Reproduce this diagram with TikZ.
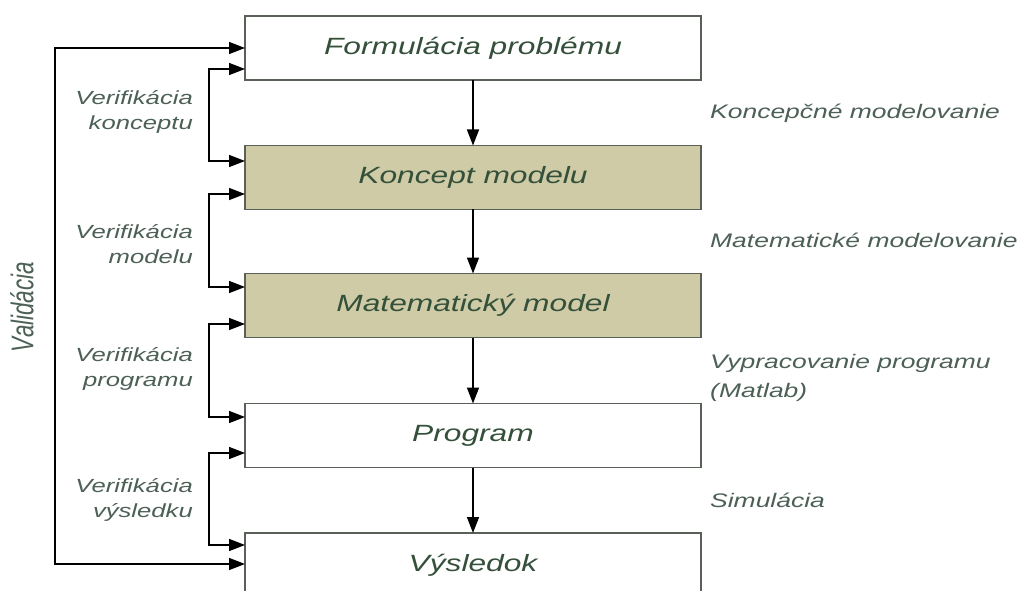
\documentclass[tikz,border=0pt]{standalone}
\usepackage{fontspec}
\setmainfont{Liberation Sans}
\usepackage{graphicx}
\usetikzlibrary{arrows.meta}
\definecolor{boxfill}{RGB}{206,203,166}
\definecolor{boxtext}{RGB}{52,80,58}
\definecolor{labtext}{RGB}{76,96,86}
\definecolor{boxline}{RGB}{88,96,88}
\newcommand{\sx}[1]{\scalebox{1.35}[1]{#1}}
\tikzset{
stage/.style={draw=boxline, line width=1.6pt, minimum width=456pt, minimum height=64pt, inner sep=0pt, outer sep=0pt, text=boxtext, font=\fontsize{23.5}{28}\selectfont\itshape},
model/.style={stage, fill=boxfill},
sidelab/.style={anchor=west, align=left, text=labtext, inner sep=0pt, font=\fontsize{19.6}{29}\selectfont\itshape},
verlab/.style={anchor=east, align=right, text=labtext, inner sep=0pt, font=\fontsize{19}{25}\selectfont\itshape},
arr/.style={line width=1.5pt, -{Triangle[length=16pt,width=12pt]}},
both/.style={line width=1.5pt, {Triangle[length=16pt,width=12pt]}-{Triangle[length=16pt,width=12pt]}},
}
\begin{document}
\begin{tikzpicture}[x=1pt,y=-1pt]
	\clip (0,0) rectangle (1021,591);
	\fill[white] (0,0) rectangle (1021,591);
	% stages
	\node[stage] (form) at (473,48) {\sx{Formulácia problému}};
	\node[model] (konc) at (473,177.5) {\sx{Koncept modelu}};
	\node[model] (mat) at (473,305.5) {\sx{Matematický model}};
	\node[stage] (prog) at (473,435.5) {\sx{Program}};
	\node[stage] (vys) at (473,565) {\sx{Výsledok}};
	\draw[arr] (form) to (konc);
	\draw[arr] (konc) to (mat);
	\draw[arr] (mat) to (prog);
	\draw[arr] (prog) to (vys);
	% verification
	\draw[both] (form.west |- 0,69) to (209,69) to (209,161) to (konc.west |- 0,161);
	\draw[both] (konc.west |- 0,194) to (209,194) to (209,287) to (mat.west |- 0,287);
	\draw[both] (mat.west |- 0,324) to (209,324) to (209,417) to (prog.west |- 0,417);
	\draw[both] (prog.west |- 0,453) to (209,453) to (209,545) to (vys.west |- 0,545);
	\node[verlab] (v1) at (193,112) {\sx{Verifikácia}\\\sx{konceptu}};
	\node[verlab] (v2) at (193,244) {\sx{Verifikácia}\\\sx{modelu}};
	\node[verlab] (v3) at (193,369) {\sx{Verifikácia}\\\sx{programu}};
	\node[verlab] (v4) at (193,500) {\sx{Verifikácia}\\\sx{výsledku}};
	% validation
	\draw[both] (form.west) to (55,48) to (55,564) to (vys.west |- 0,564);
	\node[rotate=90, text=labtext, font=\fontsize{22.4}{26}\selectfont\itshape] (val) at (22,307) {\scalebox{1}[1.4]{Validácia}};
	% phases
	\node[sidelab] (p1) at (710,113) {\sx{Koncepčné modelovanie}};
	\node[sidelab] (p2) at (710,240) {\sx{Matematické modelovanie}};
	\node[sidelab] (p3) at (710,377.5) {\sx{Vypracovanie programu}\\\sx{(Matlab)}};
	\node[sidelab] (p4) at (710,500) {\sx{Simulácia}};
\end{tikzpicture}
\end{document}
